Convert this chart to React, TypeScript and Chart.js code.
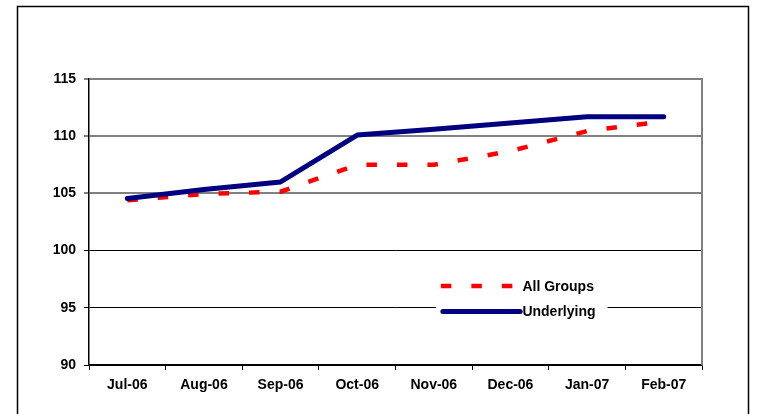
import React, { useEffect, useRef } from 'react';
import { Chart, registerables } from 'chart.js';

Chart.register(...registerables);

const categories: string[] = ['Jul-06', 'Aug-06', 'Sep-06', 'Oct-06', 'Nov-06', 'Dec-06', 'Jan-07', 'Feb-07'];
const allGroups: number[] = [104.4, 104.95, 105.15, 107.5, 107.5, 108.7, 110.45, 111.3];
const underlying: number[] = [104.55, 105.35, 106.0, 110.1, 110.6, 111.15, 111.7, 111.7];
const seriesNames: string[] = ['All Groups', 'Underlying'];
const yMin = 90;
const yMax = 115;
const yStep = 5;

const FONT_FAMILY = "'Liberation Sans', Arial, sans-serif";

const framePlugin = {
  id: 'frame',
  beforeDraw(chart: any) {
    const ctx = chart.ctx;
    ctx.save();
    ctx.fillStyle = '#ffffff';
    ctx.fillRect(0, 0, chart.width, chart.height);
    ctx.strokeStyle = '#000000';
    ctx.lineWidth = 1.5;
    ctx.strokeRect(17.5, 6.5, 731, 480);
    ctx.restore();
  },
  beforeDatasetsDraw(chart: any) {
    const ctx = chart.ctx;
    const a = chart.chartArea;
    ctx.save();
    ctx.strokeStyle = '#808080';
    ctx.lineWidth = 2;
    ctx.beginPath();
    ctx.moveTo(a.right, a.top - 1);
    ctx.lineTo(a.right, a.bottom);
    ctx.stroke();
    ctx.restore();
  },
};

const legendPlugin = {
  id: 'innerLegend',
  afterDatasetsDraw(chart: any) {
    const ctx = chart.ctx;
    const a = chart.chartArea;
    const w = a.right - a.left;
    const h = a.bottom - a.top;
    const boxX = a.left + w * 0.566;
    const boxW = w * 0.28;
    const boxY = a.top + h * 0.69;
    const boxH = h * 0.165;
    ctx.save();
    ctx.fillStyle = '#ffffff';
    ctx.fillRect(boxX, boxY, boxW, boxH);
    const sampleX0 = a.left + w * 0.574;
    const sampleX1 = a.left + w * 0.705;
    const textX = a.left + w * 0.707;
    const rows = [a.top + h * 0.724, a.top + h * 0.813];
    chart.data.datasets.forEach((ds: any, i: number) => {
      const y = rows[i];
      ctx.save();
      ctx.strokeStyle = ds.borderColor;
      ctx.lineWidth = ds.borderWidth;
      ctx.lineCap = ds.borderCapStyle || 'butt';
      ctx.setLineDash(ds.borderDash || []);
      ctx.beginPath();
      if (ds.borderDash && ds.borderDash.length) {
        ctx.moveTo(sampleX0, y);
        ctx.lineTo(sampleX1 - 8, y);
      } else {
        ctx.moveTo(sampleX0 + 2, y);
        ctx.lineTo(sampleX1 - 1, y);
      }
      ctx.stroke();
      ctx.restore();
      ctx.fillStyle = '#000000';
      ctx.font = `bold 14px ${FONT_FAMILY}`;
      ctx.textBaseline = 'middle';
      ctx.textAlign = 'left';
      ctx.fillText(ds.label, textX, y + 1);
    });
    ctx.restore();
  },
};

export default function App() {
  const canvasRef = useRef<HTMLCanvasElement | null>(null);

  useEffect(() => {
    const canvas = canvasRef.current;
    if (!canvas) return;
    const chart = new Chart(canvas, {
      type: 'line',
      data: {
        labels: categories,
        datasets: [
          {
            label: seriesNames[0],
            data: allGroups,
            borderColor: '#ff0000',
            backgroundColor: '#ff0000',
            borderWidth: 4.5,
            borderDash: [10.5, 20],
            borderCapStyle: 'butt',
            pointRadius: 0,
            tension: 0,
            fill: false,
            order: 1,
          },
          {
            label: seriesNames[1],
            data: underlying,
            borderColor: '#000080',
            backgroundColor: '#000080',
            borderWidth: 5,
            borderCapStyle: 'round',
            borderJoinStyle: 'round',
            pointRadius: 0,
            tension: 0,
            fill: false,
            order: 0,
          },
        ],
      },
      options: {
        responsive: false,
        animation: false,
        devicePixelRatio: 1,
        layout: { padding: { left: 0, right: 55, top: 79, bottom: 0 } },
        plugins: {
          legend: { display: false },
          tooltip: { enabled: false },
          title: { display: false },
        },
        scales: {
          x: {
            type: 'category',
            offset: true,
            grid: {
              offset: true,
              drawOnChartArea: false,
              drawTicks: true,
              tickLength: 5,
              color: '#000000',
              lineWidth: 1,
            },
            border: { display: true, color: '#000000', width: 1.5 },
            ticks: {
              color: '#000000',
              font: { family: FONT_FAMILY, size: 14, weight: 'bold' },
              padding: 7,
              maxRotation: 0,
              autoSkip: false,
            },
            afterFit(scale: any) {
              scale.height = 49;
            },
          },
          y: {
            min: yMin,
            max: yMax,
            grid: {
              color: (c: any) => (c.tick && c.tick.value >= 105 ? '#808080' : '#000000'),
              lineWidth: (c: any) => (c.tick && c.tick.value >= 105 ? 2 : 1),
              tickLength: 5,
              drawTicks: true,
            },
            border: { display: true, color: '#000000', width: 1.5 },
            ticks: {
              stepSize: yStep,
              color: '#000000',
              font: { family: FONT_FAMILY, size: 14, weight: 'bold' },
              padding: 8,
            },
            afterFit(scale: any) {
              scale.width = 89;
            },
          },
        },
      },
      plugins: [framePlugin, legendPlugin],
    } as any);
    return () => chart.destroy();
  }, []);

  return (
    <div style={{ position: 'absolute', left: 0, top: 0, width: 757, height: 414, background: '#fff' }}>
      <canvas ref={canvasRef} width={757} height={414} style={{ display: 'block', width: 757, height: 414 }} />
    </div>
  );
}
